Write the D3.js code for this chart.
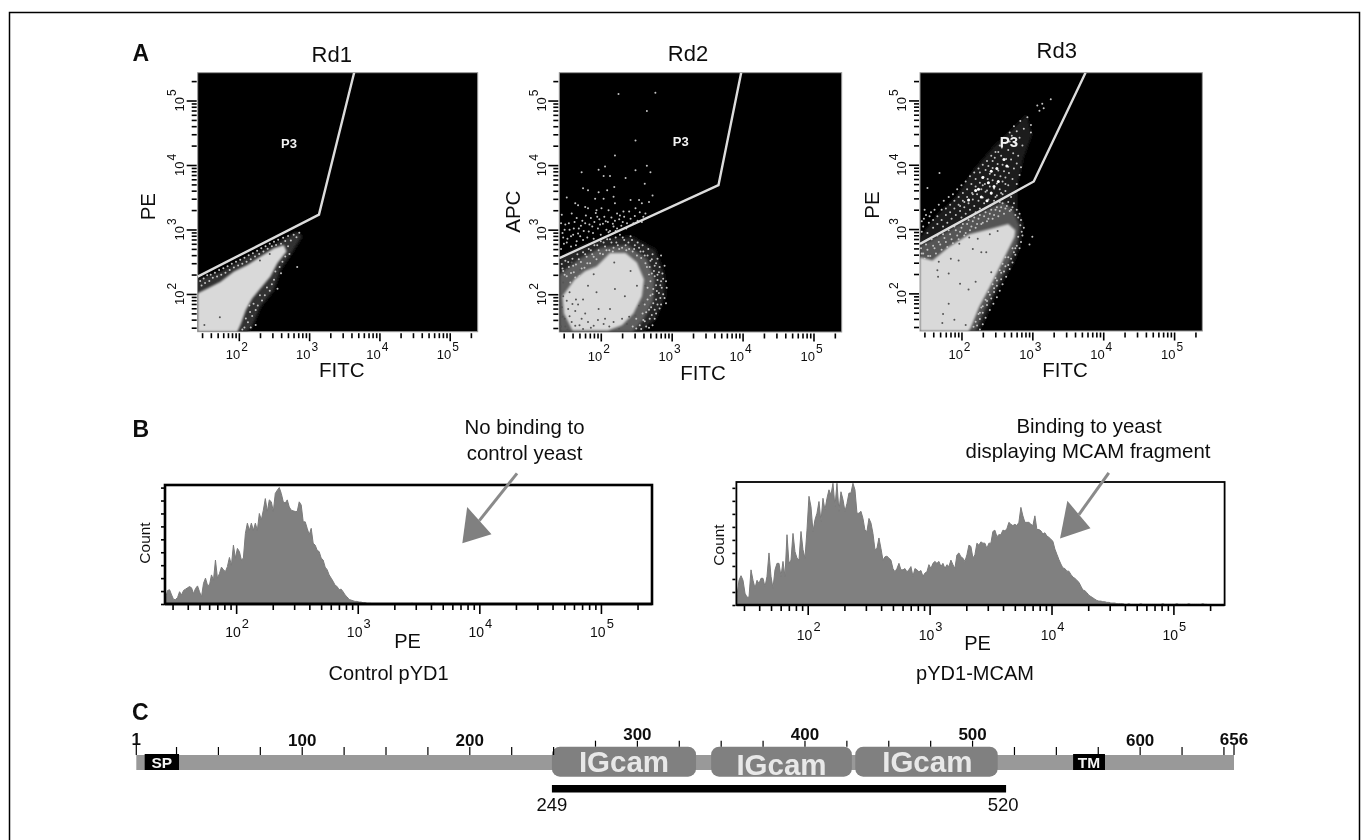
<!DOCTYPE html>
<html>
<head>
<meta charset="utf-8">
<script src="https://cdn.jsdelivr.net/npm/d3@7"></script>
<style>
  body { margin: 0; background: #fff; }
  text { font-family: "Liberation Sans", Arial, sans-serif; fill: #111; }
</style>
</head>
<body>
<div id="chart"></div>
<script>
// dot plot values are log10 fluorescence [FITC, PE/APC]
var rd1Gate = [[1.415,2.27],[3.14,3.23],[3.64,5.431]];
var rd2Gate = [[1.415,2.56],[3.66,3.69],[3.98,5.431]];
var rd3Gate = [[1.415,2.77],[3.02,3.74],[3.75,5.431]];

var rd1Core = [[1.415,2.01],[1.56,2.09],[1.74,2.19],[1.93,2.35],[2.12,2.45],[2.31,2.58],[2.5,2.71],[2.64,2.76],[2.68,2.66],[2.55,2.48],[2.45,2.27],[2.31,2.09],[2.19,1.93],[2.1,1.75],[2.03,1.54],[1.98,1.415],[1.415,1.415]];
var rd1Halo = [[1.415,2.22],[1.74,2.35],[2.12,2.58],[2.45,2.74],[2.83,2.97],[2.9,2.89],[2.78,2.68],[2.69,2.53],[2.59,2.37],[2.5,2.06],[2.31,1.8],[2.19,1.49],[2.12,1.415],[1.415,1.415]];
var rd1Dots = [[1.45,2.2],[1.47,2.13],[1.5,2.24],[1.52,2.17],[1.55,2.29],[1.58,2.2],[1.6,2.3],[1.63,2.25],[1.66,2.33],[1.69,2.27],[1.72,2.37],[1.75,2.3],[1.78,2.4],[1.81,2.33],[1.84,2.43],[1.87,2.37],[1.9,2.47],[1.93,2.41],[1.96,2.5],[1.99,2.44],[2.02,2.53],[2.05,2.47],[2.08,2.56],[2.11,2.5],[2.14,2.6],[2.17,2.54],[2.2,2.63],[2.23,2.58],[2.26,2.67],[2.29,2.62],[2.32,2.71],[2.35,2.66],[2.38,2.74],[2.41,2.7],[2.44,2.78],[2.47,2.74],[2.5,2.81],[2.53,2.76],[2.56,2.84],[2.6,2.78],[2.63,2.87],[2.66,2.82],[2.7,2.9],[2.74,2.83],[2.78,2.92],[2.82,2.88],[2.86,2.95],[2.7,2.74],[2.72,2.62],[2.66,2.58],[2.62,2.5],[2.58,2.42],[2.6,2.32],[2.52,2.35],[2.5,2.22],[2.47,2.15],[2.44,2.05],[2.4,2.1],[2.37,1.98],[2.33,1.9],[2.3,1.98],[2.27,1.82],[2.24,1.75],[2.21,1.85],[2.19,1.66],[2.16,1.72],[2.13,1.56],[2.1,1.62],[2.08,1.48],[2.05,1.45],[2.83,2.42],[2.55,2.08],[2.15,1.82],[2.24,1.52],[2.17,1.48]];
var rd1Holes = [[1.73,1.64],[1.51,1.52],[2.3,2.52],[2.44,2.62]];

var rd2Core = [[1.94,2.43],[2.13,2.64],[2.35,2.64],[2.51,2.49],[2.61,2.23],[2.58,1.97],[2.46,1.7],[2.3,1.52],[2.1,1.44],[1.6,1.44],[1.48,1.7],[1.46,1.97],[1.63,2.23],[1.78,2.36]];
var rd2Halo = [[1.415,2.56],[1.73,2.74],[2.06,2.87],[2.44,2.89],[2.77,2.69],[2.89,2.33],[2.91,1.97],[2.77,1.62],[2.58,1.415],[1.415,1.415]];
var rd2Mid = [[1.415,2.3],[1.7,2.55],[2.0,2.72],[2.38,2.76],[2.65,2.55],[2.76,2.23],[2.74,1.9],[2.6,1.6],[2.45,1.415],[1.415,1.415]];
var rd2Dots = [[2.25,5.1],[2.77,5.12],[2.65,4.84],[2.49,4.38],[2.2,4.15],[1.73,3.89],[1.97,3.93],[2.06,3.98],[2.49,3.92],[2.7,3.89],[2.65,3.99],[2.04,3.83],[2.13,3.83],[2.35,3.8],[2.62,3.71],[1.75,3.64],[1.82,3.61],[1.97,3.58],[2.09,3.61],[2.19,3.66],[2.73,3.53],[1.52,3.5],[1.64,3.41],[1.68,3.38],[1.92,3.48],[2.04,3.48],[2.18,3.51],[2.2,3.41],[2.42,3.46],[2.54,3.46],[2.68,3.43],[1.45,3.23],[1.59,3.25],[1.66,3.18],[1.78,3.35],[1.82,3.33],[1.94,3.3],[2.01,3.33],[2.11,3.3],[2.23,3.25],[2.32,3.28],[2.49,3.33],[2.58,3.41],[2.63,3.25],[1.46,2.95],[1.44,3.1],[1.5,3.08],[1.48,2.78],[1.53,2.86],[1.56,3],[1.58,2.74],[1.61,2.92],[1.63,3.12],[1.66,2.82],[1.69,3.02],[1.71,2.9],[1.74,3.14],[1.76,2.98],[1.79,3.22],[1.81,2.88],[1.84,3.08],[1.86,3.18],[1.89,2.95],[1.91,3.12],[1.93,3.26],[1.96,3.02],[1.98,3.16],[2,2.92],[2.03,3.09],[2.05,3.2],[2.08,3],[2.1,3.12],[2.13,2.98],[2.15,3.19],[2.18,3.05],[2.2,3.14],[2.23,3.02],[2.26,3.16],[2.29,3.06],[2.33,3.2],[2.37,3.1],[2.42,3.17],[2.48,3.21],[2.55,3.27],[2.6,3.2],[1.45,2.47],[1.47,2.36],[1.5,2.52],[1.52,2.28],[1.55,2.42],[1.57,2.18],[1.6,2.55],[1.62,2.34],[1.65,2.46],[1.67,2.62],[1.7,2.28],[1.72,2.5],[1.75,2.65],[1.77,2.41],[1.8,2.58],[1.83,2.7],[1.85,2.48],[1.88,2.62],[1.91,2.76],[1.94,2.54],[1.97,2.68],[2,2.82],[2.03,2.62],[2.06,2.74],[2.09,2.85],[2.12,2.68],[2.15,2.8],[2.18,2.72],[2.21,2.88],[2.24,2.76],[2.27,2.92],[2.3,2.72],[2.33,2.84],[2.36,2.68],[2.39,2.8],[2.42,2.9],[2.45,2.66],[2.48,2.76],[2.51,2.6],[2.54,2.72],[2.57,2.56],[2.6,2.66],[2.63,2.48],[2.66,2.6],[2.69,2.42],[2.72,2.54],[2.75,2.36],[2.78,2.48],[2.8,2.3],[2.83,2.42],[2.85,2.2],[2.87,2.32],[2.7,2.2],[2.74,2.08],[2.78,2.14],[2.82,2.02],[2.86,2.1],[2.9,1.94],[2.66,2.1],[2.7,1.98],[2.74,1.86],[2.78,1.92],[2.83,1.78],[2.68,1.76],[2.72,1.68],[2.62,1.84],[2.76,1.62],[2.6,1.6],[2.64,1.5],[2.55,1.52],[2.5,1.62],[2.45,1.5]];
var rd2Band = [[1.46,2.4],[1.49,2.3],[1.54,2.5],[1.58,2.33],[1.61,2.44],[1.64,2.26],[1.69,2.54],[1.73,2.4],[1.78,2.62],[1.81,2.48],[1.86,2.68],[1.9,2.58],[1.95,2.76],[1.99,2.63],[2.04,2.8],[2.08,2.68],[2.13,2.85],[2.17,2.66],[2.22,2.8],[2.26,2.7],[2.31,2.88],[2.35,2.76],[2.4,2.7],[2.44,2.84],[2.47,2.7],[2.52,2.8],[2.56,2.66],[2.59,2.76],[2.62,2.6],[2.67,2.7],[2.7,2.52],[2.73,2.62],[2.76,2.44],[2.8,2.55],[2.82,2.34],[2.88,2.24],[2.84,2.14],[2.8,2.22],[2.76,2.28],[2.72,2.32],[2.68,2.3],[2.65,2.42],[2.73,2],[2.79,2.05],[2.84,1.94],[2.88,2],[2.8,1.84],[2.76,1.76],[2.71,1.8],[2.66,1.92],[2.64,1.72],[2.69,1.62],[2.73,1.52],[2.59,1.7],[2.62,1.58],[2.57,1.46],[2.5,1.47],[2.68,1.48],[2.78,1.7],[2.85,1.84],[2.93,2.1],[2.92,1.86],[2.9,2.44],[2.85,2.6],[2.92,2.2],[1.44,2.7],[1.47,2.88],[1.49,3],[1.52,2.8],[1.55,3.1],[1.58,2.9],[1.62,3.02],[1.65,2.76],[1.68,2.94],[1.72,3.06],[1.75,2.84],[1.78,3.1],[1.83,2.97],[1.88,3.05],[1.9,2.86],[1.95,3.2],[1.99,3.08],[2.07,3.13],[2.11,2.96],[2.17,3.09],[2.21,2.98],[2.27,3.22],[2.31,3.12],[2.36,3.02],[2.4,3.28],[2.46,3.1],[2.52,3.14],[2.58,3.12]];
var rd2Holes = [[2.2,2.08],[2.34,1.97],[1.82,2.13],[1.94,2.03],[1.75,1.92],[1.65,1.92],[1.64,1.74],[1.97,1.77],[2.13,1.77],[2.42,2.36],[2.19,2.49],[1.9,2.31],[2.51,2.13],[2.54,1.82],[2.6,1.87],[2.68,2.28],[2.63,2.13],[2.06,1.62],[1.73,1.62],[1.54,1.77],[1.49,1.62],[1.59,1.57],[1.64,1.51],[1.47,1.97],[1.47,2.18],[1.56,2.03],[1.52,2.38],[1.59,2.49],[1.71,2.38],[1.82,1.57],[1.9,1.51],[2.04,1.54],[2.18,1.57],[2.37,1.54],[2.49,1.67],[1.5,1.5],[1.56,1.66],[1.7,1.52],[1.78,1.7],[1.68,1.84],[1.86,1.48],[1.45,1.8],[1.6,1.85],[1.52,1.9],[1.96,1.6],[2.12,1.5],[2.26,1.46],[2.3,1.62],[1.44,1.5],[1.46,1.65],[1.53,1.45],[1.75,1.46],[2.4,1.65]];

var rd3Core = [[1.415,2.56],[1.59,2.51],[1.82,2.72],[2.11,2.92],[2.4,3.0],[2.66,3.08],[2.76,2.98],[2.75,2.88],[2.68,2.72],[2.54,2.41],[2.4,2.1],[2.25,1.79],[2.13,1.46],[2.1,1.415],[1.415,1.415]];
var rd3Halo = [[1.415,2.87],[1.63,3.18],[1.92,3.49],[2.16,3.9],[2.44,4.26],[2.73,4.56],[2.92,4.77],[2.99,4.46],[2.87,4.1],[2.78,3.64],[2.78,3.33],[2.87,3.08],[2.82,2.72],[2.73,2.46],[2.51,2.05],[2.35,1.64],[2.25,1.415],[1.415,1.415]];
var rd3Mid = [[1.415,2.74],[1.82,2.98],[2.2,3.22],[2.58,3.42],[2.72,3.32],[2.82,3.05],[2.78,2.75],[2.66,2.44],[2.5,2.12],[2.33,1.75],[2.2,1.415],[1.415,1.415]];
var rd3Dots = [[3.26,5.02],[3.14,4.95],[3.16,4.88],[3.07,4.92],[3.1,4.84],[2.93,4.74],[2.98,4.62],[2.83,4.68],[2.88,4.56],[2.98,4.5],[2.78,4.52],[2.82,4.42],[2.71,4.45],[2.68,4.36],[2.76,4.33],[2.86,4.3],[2.62,4.34],[2.57,4.27],[2.66,4.23],[2.73,4.18],[2.8,4.14],[2.52,4.2],[2.47,4.11],[2.56,4.14],[2.63,4.09],[2.7,4.08],[2.78,4.02],[2.44,4.06],[2.51,4.01],[2.58,4],[2.66,3.97],[2.74,3.94],[2.38,3.98],[2.44,3.95],[2.52,3.91],[2.6,3.9],[2.67,3.87],[2.34,3.92],[2.4,3.86],[2.47,3.84],[2.55,3.82],[2.62,3.8],[2.72,3.78],[2.26,3.88],[2.31,3.81],[2.37,3.78],[2.44,3.76],[2.5,3.71],[2.58,3.74],[2.66,3.68],[2.2,3.78],[2.26,3.72],[2.33,3.7],[2.4,3.66],[2.46,3.63],[2.54,3.62],[2.62,3.59],[2.14,3.7],[2.2,3.66],[2.28,3.62],[2.34,3.58],[2.42,3.55],[2.5,3.52],[2.58,3.54],[2.08,3.62],[2.15,3.56],[2.22,3.54],[2.3,3.49],[2.38,3.46],[2.46,3.44],[2.54,3.42],[2.02,3.56],[2.08,3.5],[2.16,3.46],[2.24,3.44],[2.32,3.4],[2.4,3.36],[1.96,3.5],[2.02,3.44],[2.1,3.4],[2.18,3.36],[2.26,3.32],[1.9,3.44],[1.96,3.38],[2.04,3.34],[2.12,3.3],[2.2,3.26],[1.84,3.38],[1.9,3.32],[1.98,3.28],[2.06,3.24],[2.14,3.2],[1.78,3.32],[1.84,3.26],[1.92,3.22],[2,3.18],[1.72,3.3],[1.78,3.22],[1.86,3.16],[1.66,3.2],[1.72,3.14],[1.8,3.1],[1.6,3.14],[1.66,3.08],[1.74,3.04],[1.54,3.1],[1.6,3.02],[1.5,3.22],[1.46,3.04],[1.44,2.96],[1.52,2.94],[1.47,3.16],[1.57,3.26],[1.69,3.87],[1.52,3.64],[1.44,2.62],[1.48,2.54],[1.52,2.68],[1.56,2.58],[1.6,2.74],[1.64,2.62],[1.68,2.8],[1.72,2.68],[1.76,2.86],[1.8,2.72],[1.84,2.92],[1.88,2.78],[1.92,2.98],[1.96,2.84],[2,3.02],[2.04,2.9],[2.08,3.08],[2.12,2.98],[2.16,3.12],[2.2,3.02],[2.24,3.16],[2.28,3.08],[2.32,3.2],[2.36,3.12],[2.4,3.24],[2.44,3.16],[2.48,3.3],[2.52,3.2],[2.56,3.34],[2.6,3.24],[2.64,3.36],[2.68,3.28],[2.72,3.34],[2.76,3.22],[2.8,3.18],[2.83,3.06],[2.85,2.96],[2.8,2.88],[2.84,2.8],[2.78,2.74],[2.74,2.64],[2.7,2.54],[2.66,2.44],[2.6,2.34],[2.56,2.22],[2.5,2.12],[2.46,2.02],[2.42,1.92],[2.36,1.82],[2.3,1.7],[2.26,1.6],[2.22,1.5],[2.58,2.46],[2.62,2.56],[2.54,2.36],[2.48,2.24],[2.44,2.14],[2.38,2.02],[2.34,1.9],[2.28,1.78],[2.24,1.68],[3,2.88],[2.96,2.76]];
var rd3Band = [[1.43,2.7],[1.46,2.62],[1.5,2.76],[1.53,2.58],[1.58,2.84],[1.62,2.7],[1.66,2.9],[1.7,2.76],[1.74,2.92],[1.78,2.8],[1.82,2.98],[1.86,2.84],[1.9,3.04],[1.94,2.9],[1.98,2.96],[2.02,3.08],[2.06,2.94],[2.1,3.14],[2.14,3.04],[2.18,3.18],[2.22,3.08],[2.26,3.22],[2.3,3.1],[2.34,3.26],[2.38,3.16],[2.42,3.3],[2.46,3.22],[2.5,3.34],[2.54,3.28],[2.58,3.4],[2.62,3.32],[2.66,3.42],[2.7,3.3],[2.74,3.4],[2.78,3.3],[2.82,3.24],[2.84,3.14],[2.88,3.02],[2.86,2.9],[2.82,2.7],[2.76,2.6],[2.72,2.48],[2.68,2.38],[2.63,2.26],[2.58,2.14],[2.54,2.04],[2.5,1.94],[2.45,1.84],[2.4,1.74],[2.34,1.62],[2.3,1.52],[2.26,1.44],[2.76,2.7],[2.72,2.7],[2.66,2.56],[2.62,2.42],[2.56,2.32],[2.5,2.2],[2.46,2.08],[2.4,1.98],[2.36,1.88],[2.3,1.8],[2.26,1.7],[2.2,1.56],[2.17,1.48],[1.44,3.12],[1.48,3.3],[1.55,3.2],[1.62,3.3],[1.68,3.38],[1.75,3.44],[1.82,3.5],[1.88,3.54],[1.94,3.62],[2,3.68],[2.06,3.74],[2.12,3.82],[2.18,3.88],[2.24,3.94],[2.3,4],[2.36,4.06],[2.42,4.14],[2.48,4.2],[2.54,4.3],[2.6,4.42],[2.68,4.5],[2.74,4.6],[2.7,3.5],[2.76,3.58],[2.78,3.7],[2.82,3.84],[2.84,3.96],[2.48,3.5],[2.56,3.56],[2.62,3.7],[2.36,3.6],[2.3,3.68],[2.16,3.54],[2.04,3.42],[1.98,3.36]];
var rd3Bright = [[2.42,3.9],[2.5,3.94],[2.38,3.72],[2.46,3.66],[2.3,3.8],[2.2,3.6],[2.1,3.45],[2.42,3.56],[2.6,4.08],[2.64,3.98],[2.28,3.5],[2.24,3.62],[2.36,3.44],[2.52,3.74]];
var rd3Holes = [[1.68,2.49],[1.85,2.54],[1.96,2.51],[1.66,2.36],[1.82,2.31],[1.67,2.26],[1.98,2.15],[2.2,2.18],[2.1,2.06],[2.42,2.33],[1.82,1.84],[1.74,1.68],[1.73,1.54],[1.9,1.59],[2.06,1.51],[2.16,2.69],[2.28,2.64],[2.35,2.64],[1.97,2.77],[2.23,2.85],[2.11,2.87],[2.4,2.92],[2.51,2.97]];

// histogram bin counts, PE channel, first bin at log10 = 1.42
var firstBin = 1.42, binStep = 0.0164;
var controlCounts = [9,21,22,14,7,7,10,19,14,21,23,25,27,25,16,24,28,19,11,32,40,29,29,45,37,68,40,47,57,53,50,58,72,60,91,71,86,81,68,71,109,125,114,125,114,125,114,140,130,145,163,143,161,158,143,171,176,180,171,158,156,161,150,145,144,143,143,158,153,127,127,117,107,117,94,91,83,81,71,68,57,53,45,40,35,29,27,22,23,19,14,11,7,6,5,4,4,3,3,2,2,1,1,1,0,0,0,0,0,0,0,0,0,0,0,0,0,0,0,0,0,0,0,1,1,0,0,0,0,0,0,0,0,0,1,1,0,0,0];
var mcamCounts = [15,38,45,38,18,12,12,54,38,26,38,33,41,41,28,44,80,44,26,54,64,64,44,67,44,108,64,69,110,82,72,69,113,85,72,115,167,151,113,131,141,159,128,164,146,164,177,169,187,151,187,144,174,162,144,156,172,172,187,177,141,141,144,133,115,113,133,126,110,85,87,103,87,69,74,75,72,69,56,51,56,64,54,54,56,51,54,59,44,56,54,51,53,44,49,51,62,56,64,67,64,67,59,64,56,62,59,69,62,56,77,80,74,72,67,77,92,90,72,77,95,92,97,95,95,87,95,95,113,115,105,108,108,115,114,117,127,124,122,124,122,127,150,137,127,127,127,124,122,137,116,116,114,109,111,106,104,101,98,86,78,70,63,57,56,52,52,47,43,41,38,35,29,23,22,19,15,13,11,9,7,6,6,5,5,4,4,3,3,3,2,2,2,2,1,1,2,1,1,1,1,1,2,1,1,1,1,1,1,1,1,1,1,2,1,1,1,1,1,1,2,1,1,1,1,1,2,1,1,1,1,1,1,2,1,1];

var decades = [100, 1000, 10000, 100000];
var decadeExp = ["2", "3", "4", "5"];

// MCAM domain map, residue numbers
var proteinLength = 656;
var residueTicks = [1,25,50,75,100,125,150,175,200,225,250,275,300,325,350,375,400,425,450,475,500,525,550,575,600,625,650,656];
var residueLabels = [1,100,200,300,400,500,600,656];
var igDomains = [[249,335],[344,428],[430,515]];
var igTextAt = [[292,0],[386,3],[473,0]];
var motifs = [["SP",6,26.5],["TM",560,579]];
var fragment = [249,520];

var svg = d3.select("#chart").append("svg")
    .attr("width", 1368)
    .attr("height", 840);

var defs = svg.append("defs");
[["soft",0.45],["blur1",1],["blur2",1.6]].forEach(function(f){
  defs.append("filter").attr("id", f[0])
    .attr("x", "-10%").attr("y", "-10%").attr("width", "120%").attr("height", "120%")
    .append("feGaussianBlur").attr("stdDeviation", f[1]);
});

var root = svg.append("g").attr("filter", "url(#soft)");

// page frame, open at the bottom
root.append("path")
    .attr("d", "M9.5,840V12.5H1359.5V840")
    .attr("fill", "none")
    .attr("stroke", "#000")
    .attr("stroke-width", 1.5);

function label(parent, x, y, txt, size, opts){
  opts = opts || {};
  var t = parent.append("text")
      .attr("transform", "translate(" + x + "," + y + ")" + (opts.rotate ? " rotate(-90)" : ""))
      .attr("text-anchor", opts.anchor || "middle")
      .attr("font-size", size)
      .text(txt);
  if(opts.bold){ t.attr("font-weight", "bold"); }
  if(opts.fill){ t.style("fill", opts.fill); }
  return t;
}

function powerLabel(parent, x, y, exp, size, rotate){
  var t = parent.append("text")
      .attr("transform", "translate(" + x + "," + y + ")" + (rotate ? " rotate(-90)" : ""))
      .attr("text-anchor", "middle")
      .attr("font-size", size)
      .text("10");
  t.append("tspan").attr("dy", -size * 0.62).attr("dx", 1).attr("font-size", size * 0.92).text(exp);
}

function p10(d){ return Math.pow(10, d); }

function dotPlot(cfg){
  var x = d3.scaleLog().domain([26, 250000]).range(cfg.xr);
  var y = d3.scaleLog().domain([26, 270000]).range(cfg.yr);
  var g = root.append("g");
  var clipId = "clip" + cfg.title;

  g.append("clipPath").attr("id", clipId).append("rect")
      .attr("x", cfg.xr[0]).attr("y", cfg.yr[1])
      .attr("width", cfg.xr[1] - cfg.xr[0]).attr("height", cfg.yr[0] - cfg.yr[1]);

  g.append("rect")
      .attr("x", cfg.xr[0]).attr("y", cfg.yr[1])
      .attr("width", cfg.xr[1] - cfg.xr[0]).attr("height", cfg.yr[0] - cfg.yr[1])
      .attr("fill", "#000")
      .attr("stroke", "#9a9a9a");

  var inner = g.append("g").attr("clip-path", "url(#" + clipId + ")");
  var poly = d3.line().x(function(d){ return x(p10(d[0])); }).y(function(d){ return y(p10(d[1])); });

  inner.append("path").attr("d", poly(cfg.halo) + "Z").attr("fill", cfg.haloFill).attr("filter", "url(#blur2)");
  if(cfg.mid){
    inner.append("path").attr("d", poly(cfg.mid) + "Z").attr("fill", cfg.midFill).attr("filter", "url(#blur2)");
  }
  inner.append("path").attr("d", poly(cfg.core) + "Z").attr("fill", "#d9d9d9").attr("filter", "url(#blur1)");

  function dots(list, r, fill){
    inner.append("g").selectAll("circle")
      .data(list)
      .enter().append("circle")
      .attr("cx", function(d){ return x(p10(d[0])); })
      .attr("cy", function(d){ return y(p10(d[1])); })
      .attr("r", r)
      .attr("fill", fill);
  }
  dots(cfg.dots, 1, "#c4c4c4");
  if(cfg.bright){ dots(cfg.bright, 1.5, "#fff"); }
  dots(cfg.holes, 1, "#555");

  inner.append("path")
      .attr("d", poly(cfg.gate))
      .attr("fill", "none")
      .attr("stroke", "#dcdcdc")
      .attr("stroke-width", 2.4);

  // log axes, minor ticks from the scale, decades made longer
  var xAxis = g.append("g")
      .attr("transform", "translate(0," + (cfg.yr[0] + 1.5) + ")")
      .call(d3.axisBottom(x).tickValues(x.ticks()).tickFormat("").tickSize(5));
  var yAxis = g.append("g")
      .attr("transform", "translate(" + (cfg.xr[0] - 1) + ",0)")
      .call(d3.axisLeft(y).tickValues(y.ticks()).tickFormat("").tickSize(5));
  [xAxis, yAxis].forEach(function(a){
    a.select(".domain").remove();
    a.selectAll(".tick line").attr("stroke", "#000").attr("stroke-width", 1.6);
  });
  xAxis.selectAll(".tick line").attr("y2", function(d){ return decades.indexOf(d) >= 0 ? 8 : 5; });
  yAxis.selectAll(".tick line").attr("x2", function(d){ return decades.indexOf(d) >= 0 ? -10 : -5; });

  decades.forEach(function(d, i){
    powerLabel(g, x(d) - 2, cfg.xTickY, decadeExp[i], 13);
    powerLabel(g, cfg.yTickX, y(d), decadeExp[i], 13, true);
  });

  label(g, cfg.titleX, cfg.titleY, cfg.title, 22);
  label(g, cfg.xlabX, cfg.xlabY, "FITC", 20.5);
  label(g, cfg.ylabX, cfg.ylabY, cfg.ylab, 20.5, {rotate: true});
  label(g, cfg.p3X, cfg.p3Y, "P3", cfg.p3Size, {bold: true, fill: "#f2f2f2"});
}

dotPlot({title:"Rd1", xr:[197.7,477.7], yr:[331.7,72.7], gate:rd1Gate, core:rd1Core, halo:rd1Halo, haloFill:"#333",
  dots:rd1Dots, holes:rd1Holes, titleX:331.7, titleY:61.7, xlabX:341.7, xlabY:377, ylabX:155, ylabY:206.7, ylab:"PE",
  xTickY:359.3, yTickX:184, p3X:289, p3Y:148, p3Size:13});
dotPlot({title:"Rd2", xr:[559.3,841.7], yr:[332,72.7], gate:rd2Gate, core:rd2Core, halo:rd2Halo, mid:rd2Mid, midFill:"#5e5e5e", haloFill:"#262626",
  dots:rd2Dots.concat(rd2Band), holes:rd2Holes, titleX:688, titleY:60.7, xlabX:703, xlabY:380, ylabX:520, ylabY:211.7, ylab:"APC",
  xTickY:360.7, yTickX:546, p3X:680.7, p3Y:145.7, p3Size:13});
dotPlot({title:"Rd3", xr:[920,1202.3], yr:[331,72.7], gate:rd3Gate, core:rd3Core, halo:rd3Halo, mid:rd3Mid, midFill:"#555", haloFill:"#1c1c1c",
  dots:rd3Dots.concat(rd3Band), bright:rd3Bright, holes:rd3Holes, titleX:1056.7, titleY:58.3, xlabX:1065, xlabY:377.3, ylabX:879, ylabY:205,
  ylab:"PE", xTickY:359, yTickX:906, p3X:1009, p3Y:146.5, p3Size:15});

function histogram(cfg){
  var x = d3.scaleLog().domain([26, 263000]).range(cfg.xr);
  var y = d3.scaleLinear().domain([0, cfg.ymax]).range(cfg.yr);
  var g = root.append("g");

  var area = d3.area()
      .x(function(d, i){ return x(p10(firstBin + i * binStep)); })
      .y0(cfg.yr[0])
      .y1(function(d){ return y(d); });

  g.append("path")
      .attr("d", area(cfg.counts))
      .attr("fill", "#808080")
      .attr("stroke", "#7a7a7a")
      .attr("stroke-width", 1);

  g.append("rect")
      .attr("x", cfg.xr[0]).attr("y", cfg.yr[1])
      .attr("width", cfg.xr[1] - cfg.xr[0]).attr("height", cfg.yr[0] - cfg.yr[1])
      .attr("fill", "none")
      .attr("stroke", "#000")
      .attr("stroke-width", cfg.frame);

  g.append("line")
      .attr("x1", cfg.xr[0]).attr("x2", cfg.xr[1])
      .attr("y1", cfg.yr[0]).attr("y2", cfg.yr[0])
      .attr("stroke", "#000")
      .attr("stroke-width", 2.6);

  var xAxis = g.append("g")
      .attr("transform", "translate(0," + (cfg.yr[0] + 1) + ")")
      .call(d3.axisBottom(x).tickValues(x.ticks()).tickFormat("").tickSize(5));
  var yAxis = g.append("g")
      .attr("transform", "translate(" + (cfg.xr[0] - 1) + ",0)")
      .call(d3.axisLeft(y).tickValues(d3.range(0, cfg.ymax, 20)).tickFormat("").tickSize(3));
  [xAxis, yAxis].forEach(function(a){
    a.select(".domain").remove();
    a.selectAll(".tick line").attr("stroke", "#000").attr("stroke-width", 1.6);
  });
  xAxis.selectAll(".tick line").attr("y2", function(d){ return decades.indexOf(d) >= 0 ? 9 : 5; });

  decades.forEach(function(d, i){
    powerLabel(g, x(d) + 1, cfg.tickY, decadeExp[i], 14);
  });

  label(g, cfg.countX, cfg.countY, "Count", 15.5, {rotate: true});
  label(g, cfg.peX, cfg.peY, "PE", 20);
  label(g, cfg.nameX, 680, cfg.name, 20);
  cfg.note.forEach(function(n){ label(g, n[0], n[1], n[2], 20.4); });

  // arrow given in axis units [log10 PE, count]: tail, tip, head corners
  var a = cfg.arrow.map(function(p){ return [x(p10(p[0])), y(p[1])]; });
  g.append("line")
      .attr("x1", a[0][0]).attr("y1", a[0][1])
      .attr("x2", (a[2][0] + a[3][0]) / 2).attr("y2", (a[2][1] + a[3][1]) / 2)
      .attr("stroke", "#8a8a8a")
      .attr("stroke-width", 3);
  g.append("path")
      .attr("d", d3.line()([a[1], a[2], a[3]]) + "Z")
      .attr("fill", "#808080");
}

histogram({counts:controlCounts, xr:[165,652], yr:[604,485], ymax:184, frame:2.6, tickY:636.5, countX:150, countY:543,
  peX:407.5, peY:648.3, name:"Control pYD1", nameX:388.6,
  note:[[524.5,434,"No binding to"],[524.5,459.5,"control yeast"]],
  arrow:[[4.31,202],[3.86,94],[3.9,150],[4.1,108]]});
histogram({counts:mcamCounts, xr:[736.4,1224.6], yr:[605,482], ymax:189, frame:1.8, tickY:640, countX:724, countY:545,
  peX:977.5, peY:650, name:"pYD1-MCAM", nameX:975,
  note:[[1089,432.7,"Binding to yeast"],[1088,458,"displaying MCAM fragment"]],
  arrow:[[4.47,203],[4.07,102],[4.13,160],[4.32,118]]});

label(root, 132.5, 61, "A", 23, {anchor: "start", bold: true});
label(root, 132.5, 437, "B", 23, {anchor: "start", bold: true});
label(root, 132, 719.5, "C", 23, {anchor: "start", bold: true});

// panel C, domain map on a residue scale
var s = d3.scaleLinear().domain([1, proteinLength]).range([136.3, 1234]);
var map = root.append("g");
var barTop = 755, barBottom = 770, pillTop = 746.7, pillBottom = 776.7;

map.append("rect")
    .attr("x", s(1)).attr("y", barTop)
    .attr("width", s(proteinLength) - s(1)).attr("height", barBottom - barTop)
    .attr("fill", "#999");

map.selectAll(".ig")
    .data(igDomains)
    .enter().append("rect")
    .attr("x", function(d){ return s(d[0]); })
    .attr("y", pillTop)
    .attr("width", function(d){ return s(d[1]) - s(d[0]); })
    .attr("height", pillBottom - pillTop)
    .attr("rx", 8)
    .attr("fill", "#808080");

map.selectAll(".igtxt")
    .data(igTextAt)
    .enter().append("text")
    .attr("x", function(d){ return s(d[0]); })
    .attr("y", function(d){ return 771.5 + d[1]; })
    .attr("text-anchor", "middle")
    .attr("font-size", 29.5)
    .attr("font-weight", "bold")
    .style("fill", "#e8e8e8")
    .text("IGcam");

map.selectAll(".motif")
    .data(motifs)
    .enter().append("rect")
    .attr("x", function(d){ return s(d[1]); })
    .attr("y", barTop - 1)
    .attr("width", function(d){ return s(d[2]) - s(d[1]); })
    .attr("height", barBottom - barTop + 1)
    .attr("fill", "#000");

motifs.forEach(function(m){
  label(map, s((m[1] + m[2]) / 2), 768, m[0], 15.5, {bold: true, fill: "#f4f4f4"});
});

function onDomain(t){
  return igDomains.some(function(d){ return t >= d[0] + 5 && t <= d[1]; });
}

var mapAxis = map.append("g")
    .attr("transform", "translate(0," + barTop + ")")
    .call(d3.axisTop(s).tickValues(residueTicks).tickSize(8).tickPadding(1)
      .tickFormat(function(d){ return residueLabels.indexOf(d) >= 0 ? d : ""; }));
mapAxis.select(".domain").remove();
mapAxis.selectAll(".tick")
    .attr("transform", function(t){
      return "translate(" + s(t) + "," + (onDomain(t) ? pillTop - barTop : 0) + ")";
    });
mapAxis.selectAll(".tick line")
    .attr("stroke", "#000")
    .attr("stroke-width", 1.2)
    .attr("y2", function(t){ return t === 1 || t === 656 ? -11 : (onDomain(t) ? -6 : -8); });
mapAxis.selectAll(".tick text")
    .attr("y", function(t){ return t === 1 || t === 656 ? -10 : (onDomain(t) ? -7 : -9); })
    .attr("font-size", 17)
    .attr("font-weight", "bold")
    .attr("font-family", "Liberation Sans")
    .style("fill", "#111");

map.append("rect")
    .attr("x", s(fragment[0])).attr("y", 785)
    .attr("width", s(fragment[1]) - s(fragment[0])).attr("height", 7.5)
    .attr("fill", "#000");

label(map, s(fragment[0]), 811, String(fragment[0]), 18.5);
label(map, s(fragment[1]) - 3, 811, String(fragment[1]), 18.5);
</script>
</body>
</html>
